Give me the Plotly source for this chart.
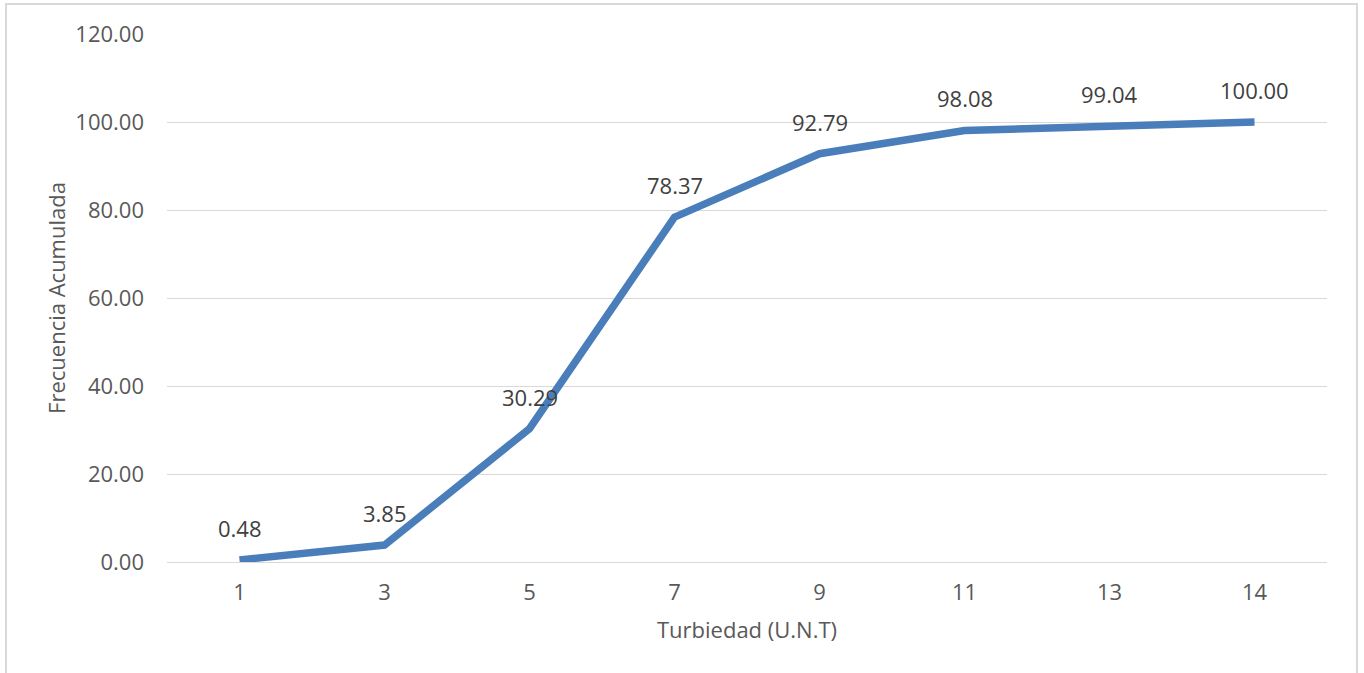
import plotly.graph_objects as go

# Cumulative frequency by turbidity class
categorias = ["1", "3", "5", "7", "9", "11", "13", "14"]
frecuencia_acumulada = [0.48, 3.85, 30.29, 78.37, 92.79, 98.08, 99.04, 100.00]
ticks_y = [0, 20, 40, 60, 80, 100, 120]

W, H = 1364, 673
L, R, T, B = 167, 37, 34, 111
FONT = "'Open Sans', Lato, 'Liberation Sans', sans-serif"
FS = 22
LINE_COLOR = "#4a7ebb"
TEXT_COLOR = "#595959"
GRID = "#d9d9d9"

idx = list(range(len(categorias)))

fig = go.Figure()
fig.add_trace(go.Scatter(
    x=idx, y=frecuencia_acumulada, mode="lines",
    line=dict(color=LINE_COLOR, width=7.5),
    hoverinfo="skip", showlegend=False,
))

for i, v in zip(idx, frecuencia_acumulada):
    fig.add_annotation(
        x=i, y=v, text=f"{v:.2f}", showarrow=False,
        yshift=32, font=dict(family=FONT, size=FS, color="#404040"),
    )

pw = W - L - R
ph = H - T - B
# light outer frame around the chart area
fig.add_shape(
    type="rect", xref="paper", yref="paper",
    x0=(6 - L) / pw, x1=(1357 - L) / pw,
    y0=-(H + 10 - T - ph) / ph, y1=1 + (T - 4) / ph,
    line=dict(color="#d9d9d9", width=2), fillcolor="rgba(0,0,0,0)", layer="below",
)

fig.update_layout(
    width=W, height=H,
    margin=dict(l=L, r=R, t=T, b=B),
    paper_bgcolor="white", plot_bgcolor="white",
    font=dict(family=FONT, size=FS, color=TEXT_COLOR),
    xaxis=dict(
        tickmode="array", tickvals=idx, ticktext=categorias,
        range=[-0.5, len(categorias) - 0.5],
        showgrid=False, zeroline=False, showline=False, ticks="",
        ticklabelstandoff=15,
        title=dict(text="Turbiedad (U.N.T)", font=dict(size=FS, color=TEXT_COLOR), standoff=17),
        tickfont=dict(size=FS, color=TEXT_COLOR),
    ),
    yaxis=dict(
        range=[0, 120], tickvals=ticks_y, tickformat=".2f",
        showgrid=True, gridcolor=GRID, gridwidth=1.3,
        zeroline=True, zerolinecolor=GRID, zerolinewidth=1.3,
        showline=False, ticks="", ticklabelstandoff=22,
        title=dict(text="Frecuencia Acumulada", font=dict(size=FS, color=TEXT_COLOR), standoff=3),
        tickfont=dict(size=FS, color=TEXT_COLOR),
    ),
)

fig.write_html("out.html")
